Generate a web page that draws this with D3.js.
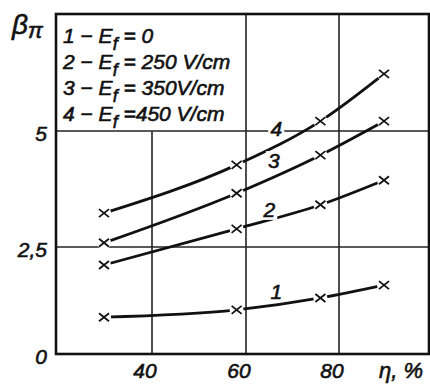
<!DOCTYPE html>
<html>
<head>
<meta charset="utf-8">
<script src="https://cdn.jsdelivr.net/npm/d3@7"></script>
<style>
	body { margin: 0; background: #fff; }
	text { font-family: "Liberation Sans", "DejaVu Sans", sans-serif; font-style: italic; fill: #111; stroke: #111; stroke-width: 0.6; }
</style>
</head>
<body>
<svg id="viz"></svg>
<script>
// values
const eta = [30, 58, 76, 90];
const beta1 = [0.86, 1.03, 1.31, 1.61];
const beta2 = [2.08, 2.89, 3.41, 3.94];
const beta3 = [2.59, 3.66, 4.48, 5.21];
const beta4 = [3.23, 4.27, 5.21, 6.22];
const seriesNames = ["1", "2", "3", "4"];
const legendLines = [
	["1 \u2212 E", "f", " = 0"],
	["2 \u2212 E", "f", " = 250 V/cm"],
	["3 \u2212 E", "f", " = 350V/cm"],
	["4 \u2212 E", "f", " =450 V/cm"]
];
// label anchors in data units (eta, beta)
const labelEta = [66.5, 65, 66, 66.5];
const labelBeta = [1.45, 3.3, 4.35, 5.05];
const xTicks = [40, 60, 80];
const yTicks = [0, 2.5, 5];
const yTickText = ["0", "2,5", "5"];

const width = 430;
const height = 387;

const svg = d3.select("svg#viz")
	.attr("width", width)
	.attr("height", height);

// hand drawn grid is not perfectly even, so use piecewise scales
const x = d3.scaleLinear()
	.domain([20, 40, 60, 80, 100])
	.range([56, 152, 246, 339, 429]);
const y = d3.scaleLinear()
	.domain([0, 2.5, 5, 7.5])
	.range([354, 247, 131, 14]);

const series = [beta1, beta2, beta3, beta4].map((vals, i) => ({
	name: seriesNames[i],
	points: vals.map((v, j) => ({eta: eta[j], beta: v}))
}));

let translate = function(a, b) {
	return 'translate(' + a + ',' + b + ')';
};

// grid
const grid = svg.append("g").attr("id", "grid")
	.attr("stroke", "#222").attr("stroke-width", 1.6);

grid.selectAll("line.h")
	.data([2.5, 5])
	.join("line")
	.attr("x1", x(20)).attr("x2", x(100))
	.attr("y1", d => y(d)).attr("y2", d => y(d));

// the 40 line stops under the legend cell
grid.selectAll("line.v")
	.data(xTicks)
	.join("line")
	.attr("x1", d => x(d)).attr("x2", d => x(d))
	.attr("y1", d => d < 60 ? y(5) : y(7.5))
	.attr("y2", y(0));

// curves
const line = d3.line()
	.x(d => x(d.eta))
	.y(d => y(d.beta))
	.curve(d3.curveMonotoneX);

svg.append("g").attr("id", "curves")
	.selectAll("path")
	.data(series)
	.join("path")
	.attr("fill", "none")
	.attr("stroke", "#111")
	.attr("stroke-width", 2.8)
	.attr("d", d => line(d.points));

// white gaps around markers, then the crosses
const allPoints = series.flatMap(s => s.points);

svg.append("g").attr("id", "gaps")
	.selectAll("circle")
	.data(allPoints)
	.join("circle")
	.attr("cx", d => x(d.eta))
	.attr("cy", d => y(d.beta))
	.attr("r", 7)
	.attr("fill", "#fff");

svg.append("g").attr("id", "markers")
	.selectAll("path")
	.data(allPoints)
	.join("path")
	.attr("transform", d => translate(x(d.eta), y(d.beta)))
	.attr("d", "M-5,-4L5,4M-5,4L5,-4")
	.attr("stroke", "#111")
	.attr("stroke-width", 1.8);

// frame
svg.append("rect")
	.attr("x", x(20)).attr("y", y(7.5))
	.attr("width", x(100) - x(20))
	.attr("height", y(0) - y(7.5))
	.attr("fill", "none")
	.attr("stroke", "#111")
	.attr("stroke-width", 2.6);

// curve numbers
const labels = svg.append("g").attr("id", "curve-labels");
labels.selectAll("rect")
	.data(series)
	.join("rect")
	.attr("x", (d, i) => x(labelEta[i]) - 8)
	.attr("y", (d, i) => y(labelBeta[i]) - 10)
	.attr("width", 16).attr("height", 20)
	.attr("fill", "#fff");
labels.selectAll("text")
	.data(series)
	.join("text")
	.attr("x", (d, i) => x(labelEta[i]))
	.attr("y", (d, i) => y(labelBeta[i]) + 7)
	.attr("text-anchor", "middle")
	.attr("font-size", 21)
	.text(d => d.name);

// legend
const legend = svg.append("g").attr("id", "legend")
	.attr("transform", translate(63, 43));
const legendText = legend.selectAll("text")
	.data(legendLines)
	.join("text")
	.attr("y", (d, i) => i * 26)
	.attr("font-size", 21);
legendText.append("tspan").text(d => d[0]);
legendText.append("tspan").attr("dy", 7).attr("font-size", 18).text(d => d[1]);
legendText.append("tspan").attr("dy", -7).text(d => d[2]);

// y axis labels
svg.append("g").attr("id", "y-labels")
	.selectAll("text")
	.data(yTicks)
	.join("text")
	.attr("x", 47)
	.attr("y", d => y(d) + 10)
	.attr("text-anchor", "end")
	.attr("font-size", 21)
	.text((d, i) => yTickText[i]);

const yTitle = svg.append("text")
	.attr("x", 12).attr("y", 34)
	.attr("font-size", 28);
yTitle.append("tspan").text("\u03B2");
yTitle.append("tspan").attr("dy", 4).attr("font-size", 22).text("\u03C0");

// x axis labels
svg.append("g").attr("id", "x-labels")
	.selectAll("text")
	.data(xTicks)
	.join("text")
	.attr("x", d => x(d) - 7)
	.attr("y", 378)
	.attr("text-anchor", "middle")
	.attr("font-size", 21)
	.text(d => d);

svg.append("text")
	.attr("x", 401).attr("y", 378)
	.attr("text-anchor", "middle")
	.attr("font-size", 22)
	.text("\u03B7, %");
</script>
</body>
</html>
